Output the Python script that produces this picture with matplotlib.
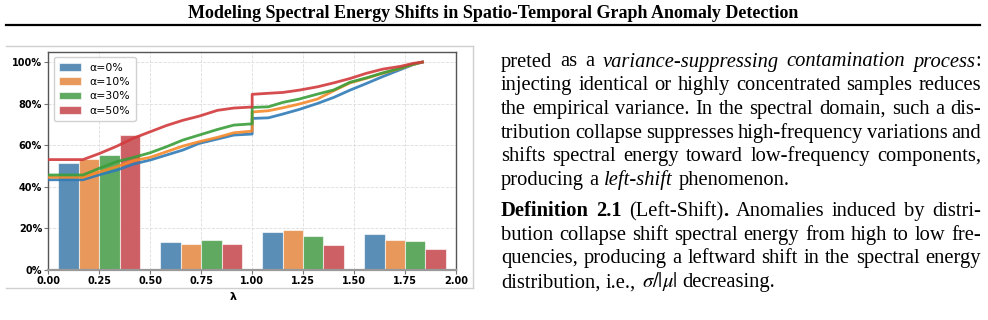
import re
import matplotlib
matplotlib.use("Agg")
import matplotlib.pyplot as plt
from matplotlib.ticker import PercentFormatter
from matplotlib.lines import Line2D

W, H = 988, 320
plt.rcParams['mathtext.fontset'] = 'stix'

# ---- data ----
labels = ['α=0%', 'α=10%', 'α=30%', 'α=50%']
line_colors = ['#2f7bb6', '#f5892a', '#3a9e3a', '#d23a3c']
bar_colors = ['#5a8eb6', '#e8985a', '#60a960', '#cd6064']

bin_starts = [0.0, 0.5, 1.0, 1.5]
hist_a0 = [51.4, 13.5, 18.1, 17.1]
hist_a10 = [53.4, 12.7, 19.4, 14.6]
hist_a30 = [55.3, 14.3, 16.2, 14.1]
hist_a50 = [64.9, 12.7, 12.2, 10.3]

lam = [0.00, 0.17, 0.25, 0.335, 0.42, 0.50, 0.58, 0.66, 0.74, 0.83, 0.91, 1.00,
       1.00, 1.08, 1.15, 1.23, 1.32, 1.40, 1.48, 1.56, 1.64, 1.73, 1.79, 1.835]
cdf_a0 = [43.4, 43.4, 45.8, 48.0, 51.0, 52.9, 55.3, 57.7, 60.9, 63.0, 64.9, 65.4,
          72.9, 73.2, 75.0, 77.2, 80.1, 83.0, 86.5, 89.7, 93.0, 96.5, 98.8, 100]
cdf_a10 = [44.6, 44.6, 47.1, 49.7, 52.6, 54.2, 56.9, 59.6, 61.7, 63.8, 66.0, 66.8,
           76.0, 76.6, 78.0, 79.8, 82.2, 86.2, 90.0, 92.2, 94.6, 97.0, 98.9, 100]
cdf_a30 = [45.7, 45.7, 48.9, 52.1, 54.2, 56.4, 59.3, 62.5, 64.9, 67.6, 69.7, 70.3,
           78.2, 78.5, 80.6, 82.2, 84.6, 86.6, 90.3, 92.4, 94.8, 97.1, 99.0, 100]
cdf_a50 = [53.1, 53.1, 56.0, 59.5, 63.5, 66.5, 69.5, 72.0, 74.0, 76.8, 77.9, 78.4,
           84.5, 85.0, 85.4, 86.5, 88.1, 90.0, 92.1, 94.6, 96.6, 98.0, 99.4, 100]

hists = [hist_a0, hist_a10, hist_a30, hist_a50]
cdfs = [cdf_a0, cdf_a10, cdf_a30, cdf_a50]

title = "Modeling Spectral Energy Shifts in Spatio-Temporal Graph Anomaly Detection"
para1 = [
    "preted as a *variance-suppressing contamination process*:",
    "injecting identical or highly concentrated samples reduces",
    "the empirical variance. In the spectral domain, such a dis-",
    "tribution collapse suppresses high-frequency variations and",
    "shifts spectral energy toward low-frequency components,",
    "producing a *left-shift* phenomenon.",
]
para2 = [
    "**Definition 2.1** (Left-Shift)**.** Anomalies induced by distri-",
    "bution collapse shift spectral energy from high to low fre-",
    "quencies, producing a leftward shift in the spectral energy",
    r"distribution, i.e., $\sigma/|\mu|$ decreasing.",
]

fig = plt.figure(figsize=(W / 100, H / 100), dpi=100)
rend = fig.canvas.get_renderer()


def fx(x):
    return x / W


def fy(y):
    return 1 - y / H


# ---- chart ----
ax = fig.add_axes([fx(48.3), fy(270), (456 - 48.3) / W, (270 - 51.7) / H])
bars = []
for i in range(4):
    xs = [b + 0.05 + 0.1 * i for b in bin_starts]
    bc = ax.bar(xs, hists[i], width=0.1, align='edge', color=bar_colors[i],
                edgecolor=(1, 1, 1, 0.6), linewidth=0.8, label=labels[i], zorder=2)
    bars.append(bc)
for i in range(4):
    ax.plot(lam, cdfs[i], color=line_colors[i], lw=2.0, alpha=0.9, zorder=3)

ax.set_xlim(0, 2)
ax.set_ylim(0, 105)
ax.set_xticks([0, 0.25, 0.5, 0.75, 1.0, 1.25, 1.5, 1.75, 2.0])
ax.set_yticks([0, 20, 40, 60, 80, 100])
ax.yaxis.set_major_formatter(PercentFormatter(100, decimals=0))
ax.xaxis.set_major_formatter(plt.FormatStrFormatter('%.2f'))
ax.grid(True, ls='--', lw=0.6, color='#dddddd', zorder=0)
ax.set_axisbelow(True)
for lab in ax.get_xticklabels() + ax.get_yticklabels():
    lab.set_fontweight('bold')
ax.tick_params(labelsize=7, length=3, width=0.8, color='#777777', pad=1.5)
for s in ['left', 'top', 'right']:
    ax.spines[s].set_color('#555555')
    ax.spines[s].set_linewidth(1.0)
ax.spines['bottom'].set_color('#999999')
ax.spines['bottom'].set_linewidth(1.6)
ax.legend(handles=bars, loc='upper left', fontsize=7.8, handlelength=2.0,
          labelspacing=0.4, borderpad=0.5, framealpha=0.9, edgecolor='#cccccc',
          fancybox=True)
fig.text(fx(233), fy(297), 'λ', fontsize=8, fontweight='bold', ha='center', va='center')

# light frame around the embedded figure
for (x0, y0, x1, y1) in [(6, 46, 473, 46), (473, 46, 473, 288), (6, 288, 473, 288)]:
    fig.add_artist(Line2D([fx(x0), fx(x1)], [fy(y0), fy(y1)], color='#cfcfcf', lw=1.0))

# ---- page header ----
t = fig.text(fx(493), fy(17.5), title, fontsize=12, family='Liberation Serif',
             fontweight='bold', ha='center', va='baseline')
tw = t.get_window_extent(rend).width
t.set_fontsize(12 * 608 / tw)
fig.add_artist(Line2D([fx(6), fx(980)], [fy(25), fy(25)], color='black', lw=1.6))

# ---- right column body text (justified) ----
BODY = 14.8
X0, X1 = 501, 981


def words_of(markup):
    out, style = [], 'n'
    for w in markup.split(' '):
        pieces = []
        for part in re.split(r'(\*\*|\*)', w):
            if part == '**':
                style = 'n' if style == 'b' else 'b'
            elif part == '*':
                style = 'n' if style == 'i' else 'i'
            elif part:
                pieces.append((part, style))
        if pieces:
            out.append(pieces)
    return out


def draw_line(markup, y, justify=True):
    words = words_of(markup)
    arts, widths = [], []
    for w in words:
        ws = []
        for txt, st in w:
            tt = fig.text(0, 0, txt, fontsize=BODY, family='Liberation Serif',
                          style='italic' if st == 'i' else 'normal',
                          weight='bold' if st == 'b' else 'normal',
                          ha='left', va='baseline')
            ws.append((tt, tt.get_window_extent(rend).width))
        arts.append(ws)
        widths.append(sum(v for _, v in ws))
    if justify:
        gap = (X1 - X0 - sum(widths)) / (len(words) - 1)
    else:
        gap = BODY * 100 / 72 * 0.27
    x = X0
    for ws, wd in zip(arts, widths):
        xx = x
        for tt, v in ws:
            tt.set_position((fx(xx), fy(y)))
            xx += v
        x += wd + gap


step = 23.7
for k, line in enumerate(para1):
    draw_line(line, 66.5 + k * step, justify=(k < len(para1) - 1))
for k, line in enumerate(para2):
    draw_line(line, 216 + k * step, justify=(k < len(para2) - 1))

fig.savefig('out.png', dpi=100)
